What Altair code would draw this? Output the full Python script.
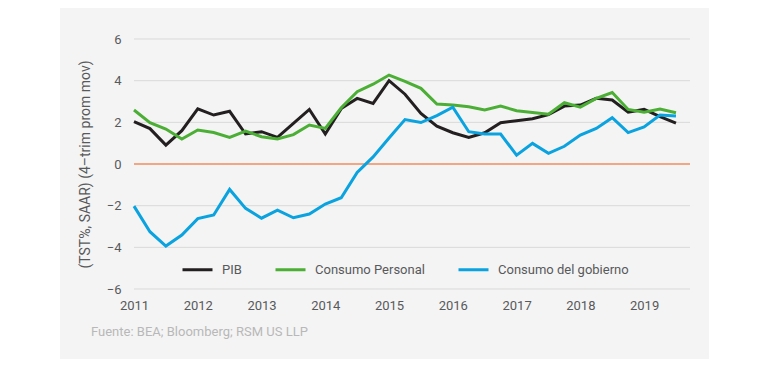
import altair as alt
import pandas as pd

# Quarterly periods 2011Q1 .. 2019Q3
quarters = [f"{y}Q{q}" for y in range(2011, 2020) for q in range(1, 5)][:35]

pib = [2.03, 1.70, 0.91, 1.60, 2.65, 2.35, 2.53, 1.44, 1.55, 1.28, 1.95, 2.62,
       1.44, 2.66, 3.15, 2.91, 4.00, 3.35, 2.43, 1.82, 1.50, 1.28, 1.50, 1.98,
       2.08, 2.17, 2.37, 2.78, 2.83, 3.15, 3.07, 2.49, 2.62, 2.27, 1.96]
consumo_personal = [2.59, 1.98, 1.68, 1.20, 1.63, 1.51, 1.28, 1.58, 1.31, 1.20, 1.41, 1.87,
                    1.71, 2.70, 3.47, 3.83, 4.27, 3.97, 3.63, 2.88, 2.83, 2.75, 2.59, 2.78,
                    2.56, 2.47, 2.39, 2.94, 2.73, 3.15, 3.43, 2.62, 2.48, 2.64, 2.46]
consumo_gobierno = [-2.02, -3.25, -3.94, -3.41, -2.62, -2.45, -1.22, -2.13, -2.60, -2.22, -2.58, -2.40,
                    -1.92, -1.62, -0.40, 0.34, 1.25, 2.13, 1.99, 2.32, 2.73, 1.55, 1.44, 1.44,
                    0.42, 0.99, 0.51, 0.85, 1.39, 1.71, 2.22, 1.51, 1.78, 2.35, 2.30]

series_names = ["PIB", "Consumo Personal", "Consumo del gobierno"]
series_colors = ["#231f20", "#4caf35", "#0aa3df"]
year_ticks = [2011, 2012, 2013, 2014, 2015, 2016, 2017, 2018, 2019]
y_ticks = [-6, -4, -2, 0, 2, 4, 6]
grid_values = [-6, -4, -2, 2, 4, 6]

def qnum(s):
    return int(s[:4]) + (int(s[-1]) - 1) / 4

rows = []
for name, vals in zip(series_names, [pib, consumo_personal, consumo_gobierno]):
    for q, v in zip(quarters, vals):
        rows.append({"t": qnum(q), "serie": name, "v": v})
df = pd.DataFrame(rows)

FONT = "Roboto"
LABEL = "#58595b"

xscale = alt.Scale(domain=[2011, 2019.72], nice=False, zero=False)
yscale = alt.Scale(domain=[-6, 6], nice=False)

panel = alt.Chart(pd.DataFrame({"a": [0]})).mark_rect(color="#f4f4f4").encode(
    x=alt.value(-74), x2=alt.value(575), y=alt.value(-32), y2=alt.value(320)
)

grid = alt.Chart(pd.DataFrame({"g": grid_values})).mark_rule(
    color="#d9d9d9", strokeWidth=1
).encode(y=alt.Y("g:Q", scale=yscale))

zero = alt.Chart(pd.DataFrame({"z": [0]})).mark_rule(
    color="#f2a683", strokeWidth=2
).encode(y=alt.Y("z:Q", scale=yscale))

lines = alt.Chart(df).mark_line(strokeWidth=3, strokeJoin="miter").encode(
    x=alt.X("t:Q", scale=xscale,
            axis=alt.Axis(values=year_ticks, format="d", title=None, grid=False,
                          domain=False, ticks=False, labelPadding=10, zindex=1,
                          labelFlush=False,
                          labelFontSize=13, labelColor=LABEL, labelFont=FONT)),
    y=alt.Y("v:Q", scale=yscale,
            axis=alt.Axis(values=y_ticks, title="(TST%, SAAR) (4–trim prom mov)",
                          grid=False, domain=False, ticks=False, labelPadding=13, zindex=1,
                          labelFontSize=13, labelColor=LABEL, labelFont=FONT,
                          titleFont=FONT, titleFontSize=14, titleFontWeight="normal",
                          titleColor=LABEL, titleX=-49, titleY=125, titleAngle=-90,
                          titleAlign="center", titleBaseline="middle")),
    color=alt.Color("serie:N",
                    scale=alt.Scale(domain=series_names, range=series_colors),
                    sort=series_names,
                    legend=alt.Legend(title=None, orient="none", direction="horizontal",
                                      legendX=47, legendY=214, symbolType="stroke",
                                      symbolSize=900, symbolStrokeWidth=3, zindex=1,
                                      labelFontSize=13, labelFont=FONT, labelColor=LABEL,
                                      labelOffset=8, columnPadding=27, padding=0)),
    order=alt.Order("t:Q"),
)

source = alt.Chart(pd.DataFrame({"s": ["Fuente: BEA; Bloomberg; RSM US LLP"]})).mark_text(
    align="left", baseline="middle", fontSize=13, font=FONT, color="#b8b8b8"
).encode(x=alt.value(-43), y=alt.value(293), text="s:N")

chart = alt.layer(panel, grid, zero, lines, source).properties(
    width=556, height=250,
    autosize=alt.AutoSizeParams(type="none"),
    padding={"left": 126, "top": 31, "right": 60, "bottom": 70},
).configure_view(stroke=None).configure(background="white")

chart.save("out.html", embed_options={"renderer": "svg", "actions": False})
